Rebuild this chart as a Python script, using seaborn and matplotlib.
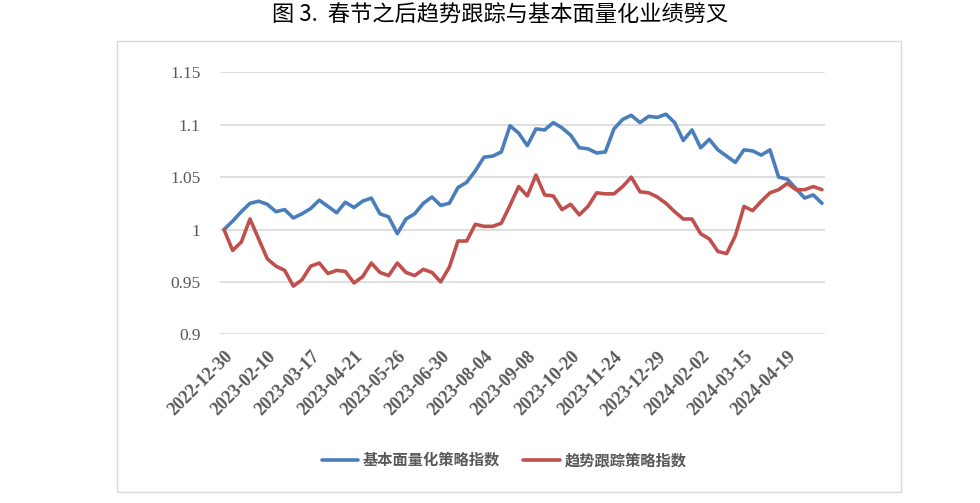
import pandas as pd
import matplotlib.pyplot as plt
import seaborn as sns
from matplotlib.patches import Rectangle

# weekly dates (trading weeks)
dates = ['2022-12-30', '2023-01-06', '2023-01-13', '2023-01-20', '2023-02-03',
         '2023-02-10', '2023-02-17', '2023-02-24', '2023-03-03', '2023-03-10',
         '2023-03-17', '2023-03-24', '2023-03-31', '2023-04-07', '2023-04-14',
         '2023-04-21', '2023-04-28', '2023-05-05', '2023-05-12', '2023-05-19',
         '2023-05-26', '2023-06-02', '2023-06-09', '2023-06-16', '2023-06-21',
         '2023-06-30', '2023-07-07', '2023-07-14', '2023-07-21', '2023-07-28',
         '2023-08-04', '2023-08-11', '2023-08-18', '2023-08-25', '2023-09-01',
         '2023-09-08', '2023-09-15', '2023-09-22', '2023-09-28', '2023-10-13',
         '2023-10-20', '2023-10-27', '2023-11-03', '2023-11-10', '2023-11-17',
         '2023-11-24', '2023-12-01', '2023-12-08', '2023-12-15', '2023-12-22',
         '2023-12-29', '2024-01-05', '2024-01-12', '2024-01-19', '2024-01-26',
         '2024-02-02', '2024-02-08', '2024-02-23', '2024-03-01', '2024-03-08',
         '2024-03-15', '2024-03-22', '2024-03-29', '2024-04-03', '2024-04-12',
         '2024-04-19', '2024-04-26', '2024-04-30', '2024-05-10', '2024-05-17']

fundamental = [1.000, 1.008, 1.017, 1.025, 1.027, 1.024, 1.017, 1.019, 1.011, 1.015,
               1.020, 1.028, 1.022, 1.016, 1.026, 1.021, 1.027, 1.030, 1.015, 1.012,
               0.996, 1.010, 1.015, 1.025, 1.031, 1.023, 1.025, 1.040, 1.045, 1.056,
               1.069, 1.070, 1.074, 1.099, 1.092, 1.080, 1.096, 1.095, 1.102, 1.097,
               1.090, 1.078, 1.077, 1.073, 1.074, 1.096, 1.105, 1.109, 1.102, 1.108,
               1.107, 1.110, 1.102, 1.085, 1.095, 1.078, 1.086, 1.076, 1.070, 1.064,
               1.076, 1.075, 1.071, 1.076, 1.050, 1.048, 1.039, 1.030, 1.033, 1.025]

trend = [1.000, 0.980, 0.988, 1.010, 0.991, 0.972, 0.965, 0.961, 0.946, 0.952,
         0.965, 0.968, 0.958, 0.961, 0.960, 0.949, 0.955, 0.968, 0.959, 0.956,
         0.968, 0.959, 0.956, 0.962, 0.959, 0.950, 0.964, 0.989, 0.989, 1.005,
         1.003, 1.003, 1.006, 1.023, 1.041, 1.032, 1.052, 1.033, 1.032, 1.019,
         1.024, 1.014, 1.022, 1.035, 1.034, 1.034, 1.041, 1.050, 1.036, 1.035,
         1.031, 1.025, 1.017, 1.010, 1.010, 0.996, 0.991, 0.979, 0.977, 0.994,
         1.022, 1.018, 1.027, 1.035, 1.038, 1.044, 1.038, 1.038, 1.041, 1.038]

series_names = ['基本面量化策略指数', '趋势跟踪策略指数']
colors = ['#4a7ebb', '#c0504d']
yticks = [0.9, 0.95, 1.0, 1.05, 1.1, 1.15]
ytick_labels = ['0.9', '0.95', '1', '1.05', '1.1', '1.15']

n = len(dates)
df = pd.DataFrame({
    'pos': list(range(n)) * 2,
    'value': fundamental + trend,
    'series': [series_names[0]] * n + [series_names[1]] * n,
})

sns.set_theme(style='white')
plt.rcParams['font.family'] = ['Liberation Serif', 'Noto Sans CJK SC']
cjk = ['Noto Sans CJK SC', 'DejaVu Sans']

fig = plt.figure(figsize=(9.8, 5.03), dpi=100)
ax = fig.add_axes([220 / 980, 1 - 334.3 / 503, 605 / 980, 262 / 503])

sns.lineplot(data=df, x='pos', y='value', hue='series', palette=colors,
             linewidth=2.6, ax=ax, legend=True)

ax.set_xlim(-0.46, 69.35)
ax.set_ylim(0.9, 1.15)
ax.set_yticks(yticks)
ax.set_yticklabels(ytick_labels, fontsize=12.5, color='#595959')
ticks = list(range(0, n, 5))
ax.set_xticks(ticks)
ax.set_xticklabels([dates[i] for i in ticks], rotation=45, ha='right',
                   rotation_mode='anchor', fontsize=13, fontweight='bold',
                   color='#595959')
ax.tick_params(axis='x', length=0, pad=10)
ax.tick_params(axis='y', length=0, pad=14)
ax.grid(axis='y', color='#d9d9d9', linewidth=1.2)
ax.set_axisbelow(True)
for s in ax.spines.values():
    s.set_visible(False)
ax.set_xlabel('')
ax.set_ylabel('')

leg = ax.legend(loc='center', bbox_to_anchor=(504 / 980, 1 - 460 / 503),
                bbox_transform=fig.transFigure, ncol=2, frameon=False,
                handlelength=2.4, handletextpad=0.3, columnspacing=1.5,
                prop={'family': cjk, 'size': 11, 'weight': 'bold'})
for t in leg.get_texts():
    t.set_color('#595959')

# outer chart border
fig.patches.append(Rectangle((117 / 980, 1 - 492 / 503), 784 / 980, 451 / 503,
                             transform=fig.transFigure, fill=False,
                             edgecolor='#d9d9d9', linewidth=1))

fig.text(500 / 980, 1 - 15 / 503, '图 3.  春节之后趋势跟踪与基本面量化业绩劈叉',
         ha='center', va='center', fontsize=16, family=cjk, weight='light',
         color='black')

fig.savefig('out.png', dpi=100)
